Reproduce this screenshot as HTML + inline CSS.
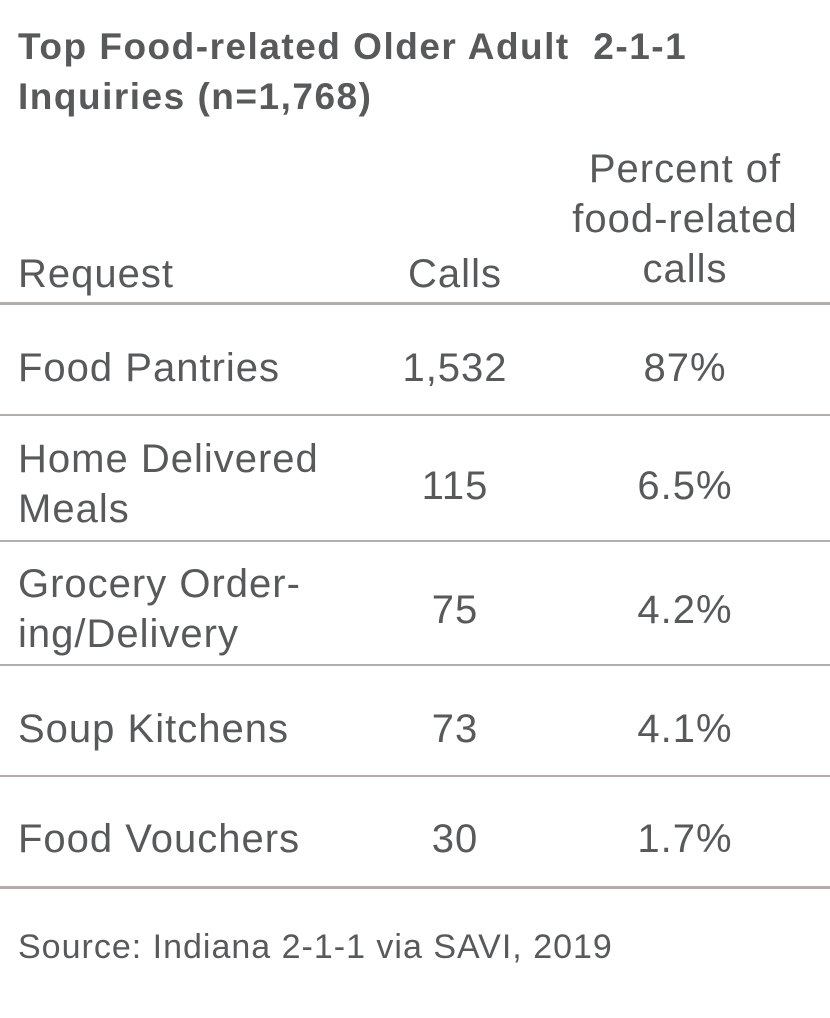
<!DOCTYPE html>
<html><head><meta charset="utf-8"><style>
body{margin:0;width:830px;height:1018px;background:#fff;position:relative;overflow:hidden;font-family:"Liberation Sans",sans-serif;color:#58595b}
.t{position:absolute;font-size:40px;line-height:1;white-space:nowrap;letter-spacing:1px}
.c{transform:translateX(-50%)}
.h{position:absolute;left:0;width:830px;background:#b3adab}
.title{position:absolute;left:18px;top:22px;font-size:37px;font-weight:bold;line-height:50px;color:#58595b;letter-spacing:1.5px;white-space:nowrap}
</style></head><body>
<div class="title">Top Food-related Older Adult&nbsp; 2-1-1<br>Inquiries (n=1,768)</div>
<div class="t" style="left:18px;top:254px">Request</div>
<div class="t c" style="left:455px;top:254px">Calls</div>
<div class="t c" style="left:685px;text-align:center;line-height:50px;top:144px">Percent of<br>food-related<br>calls</div>
<div class="h" style="top:302px;height:3px"></div>

<div class="t" style="left:18px;top:348px">Food Pantries</div>
<div class="t c" style="left:455px;top:348px">1,532</div>
<div class="t c" style="left:685px;top:348px">87%</div>
<div class="h" style="top:414px;height:2px"></div>

<div class="t" style="left:18px;line-height:50px;top:434px">Home Delivered<br>Meals</div>
<div class="t c" style="left:455px;top:466px">115</div>
<div class="t c" style="left:685px;top:466px">6.5%</div>
<div class="h" style="top:540px;height:2px"></div>

<div class="t" style="left:18px;line-height:50px;top:559px">Grocery Order-<br>ing/Delivery</div>
<div class="t c" style="left:455px;top:590px">75</div>
<div class="t c" style="left:685px;top:590px">4.2%</div>
<div class="h" style="top:664px;height:2px"></div>

<div class="t" style="left:18px;top:709px">Soup Kitchens</div>
<div class="t c" style="left:455px;top:709px">73</div>
<div class="t c" style="left:685px;top:709px">4.1%</div>
<div class="h" style="top:775px;height:2px"></div>

<div class="t" style="left:18px;top:819px">Food Vouchers</div>
<div class="t c" style="left:455px;top:819px">30</div>
<div class="t c" style="left:685px;top:819px">1.7%</div>
<div class="h" style="top:886px;height:3px"></div>

<div class="t" style="left:18px;top:930px;font-size:34px">Source: Indiana 2-1-1 via SAVI, 2019</div>
</body></html>
